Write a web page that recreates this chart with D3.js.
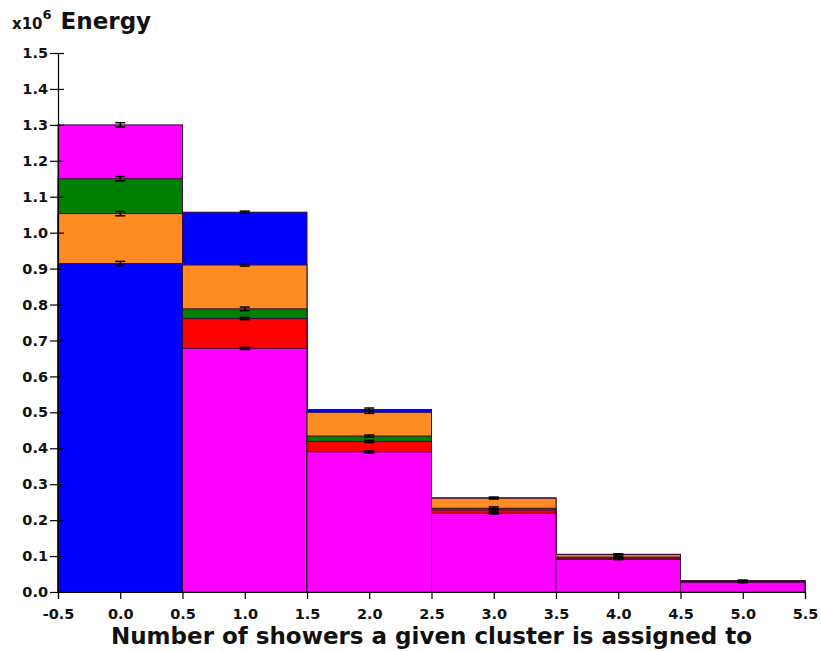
<!DOCTYPE html>
<html>
<head>
<meta charset="utf-8">
<script src="https://cdn.jsdelivr.net/npm/d3@7"></script>
<style>
  body { margin: 0; background: #fff; }
  svg { display: block; font-family: "DejaVu Sans", sans-serif; font-weight: bold; }
</style>
</head>
<body>
<div id="chart"></div>
<script>
// bin centres (number of showers)
const binCenters = [0, 1, 2, 3, 4, 5];
const xTicks = [-0.5, 0.0, 0.5, 1.0, 1.5, 2.0, 2.5, 3.0, 3.5, 4.0, 4.5, 5.0, 5.5];
const yTicks = [0.0, 0.1, 0.2, 0.3, 0.4, 0.5, 0.6, 0.7, 0.8, 0.9, 1.0, 1.1, 1.2, 1.3, 1.4, 1.5];

// energy in units of 1e6, each histogram filled from zero and overlaid
const blueVals    = [0.914, 1.057, 0.508, 0.262, 0.105, 0.032];
const orangeVals  = [1.053, 0.910, 0.500, 0.261, 0.104, 0.031];
const greenVals   = [1.150, 0.788, 0.434, 0.233, 0.097, 0.029];
const redVals     = [0.000, 0.761, 0.419, 0.228, 0.094, 0.028];
const magentaVals = [1.300, 0.678, 0.390, 0.219, 0.091, 0.027];

const blueErr    = [0.006, 0.003, 0.004, 0.002, 0.001, 0.001];
const orangeErr  = [0.006, 0.003, 0.003, 0.002, 0.001, 0.001];
const greenErr   = [0.006, 0.005, 0.003, 0.004, 0.001, 0.001];
const redErr     = [0.000, 0.003, 0.003, 0.004, 0.001, 0.001];
const magentaErr = [0.006, 0.003, 0.003, 0.002, 0.001, 0.001];

const series = [
  { name: "blue",    color: "#0000ff", vals: blueVals,    errs: blueErr },
  { name: "orange",  color: "#ff8c22", vals: orangeVals,  errs: orangeErr },
  { name: "green",   color: "#008000", vals: greenVals,   errs: greenErr },
  { name: "red",     color: "#ff0000", vals: redVals,     errs: redErr },
  { name: "magenta", color: "#ff00ff", vals: magentaVals, errs: magentaErr }
];

const width = 821, height = 651;
const margin = { left: 58, right: 16, top: 53, bottom: 59 };

const svg = d3.select("#chart").append("svg")
  .attr("width", width)
  .attr("height", height);

const x = d3.scaleLinear().domain([-0.5, 5.5]).range([margin.left, width - margin.right]);
const y = d3.scaleLinear().domain([0, 1.5]).range([height - margin.bottom, margin.top]);

// flatten into one rect per series per bin, tallest drawn first
const rects = [];
binCenters.forEach((c, i) => {
  const inBin = series
    .map(s => ({ bin: c, color: s.color, v: s.vals[i], e: s.errs[i] }))
    .filter(d => d.v > 0)
    .sort((a, b) => b.v - a.v);
  rects.push(...inBin);
});

svg.append("g").selectAll("rect")
  .data(rects)
  .enter().append("rect")
  .attr("x", d => x(d.bin - 0.5))
  .attr("width", d => x(d.bin + 0.5) - x(d.bin - 0.5))
  .attr("y", d => y(d.v))
  .attr("height", d => y(0) - y(d.v))
  .attr("fill", d => d.color)
  .attr("stroke", "#3a0a3a")
  .attr("stroke-width", 1);

// error bars
const eb = svg.append("g").attr("stroke", "#000").attr("stroke-width", 1.5);
rects.forEach(d => {
  const cx = x(d.bin);
  eb.append("line").attr("x1", cx).attr("x2", cx).attr("y1", y(d.v - d.e)).attr("y2", y(d.v + d.e));
  eb.append("line").attr("x1", cx - 5).attr("x2", cx + 5).attr("y1", y(d.v + d.e)).attr("y2", y(d.v + d.e));
  eb.append("line").attr("x1", cx - 5).attr("x2", cx + 5).attr("y1", y(d.v - d.e)).attr("y2", y(d.v - d.e));
});

// y axis
const yAxis = svg.append("g")
  .attr("transform", `translate(${margin.left},0)`)
  .call(d3.axisLeft(y).tickValues(yTicks).tickFormat(d3.format(".1f")).tickSize(7).tickPadding(3));
yAxis.select(".domain").attr("stroke", "#000").attr("stroke-width", 1.2);
yAxis.selectAll(".tick line").attr("x2", 6).attr("x1", -8).attr("stroke-width", 1.2);
yAxis.selectAll(".tick text").attr("font-size", 14.5).attr("font-weight", "bold")
  .attr("font-family", "DejaVu Sans").attr("fill", "#111").attr("x", -10);

// x axis
const xAxis = svg.append("g")
  .attr("transform", `translate(0,${y(0)})`)
  .call(d3.axisBottom(x).tickValues(xTicks).tickFormat(d => d3.format(".1f")(d).replace("−", "-")).tickSize(7).tickPadding(10));
xAxis.select(".domain").attr("stroke", "#000").attr("stroke-width", 1.2);
xAxis.selectAll(".tick line").attr("stroke-width", 1.2);
xAxis.selectAll(".tick text").attr("font-size", 14.5).attr("font-weight", "bold")
  .attr("font-family", "DejaVu Sans").attr("fill", "#111");

// y title with exponent
const yt = svg.append("text").attr("x", 12).attr("y", 29).attr("fill", "#111");
yt.append("tspan").attr("font-size", 15).text("x10");
yt.append("tspan").attr("font-size", 13).attr("dy", -10).text("6");
yt.append("tspan").attr("font-size", 23).attr("dy", 10).attr("dx", 9).text("Energy");

// x title
svg.append("text")
  .attr("x", (x(-0.5) + x(5.5)) / 2)
  .attr("y", 644)
  .attr("text-anchor", "middle")
  .attr("font-size", 23)
  .attr("fill", "#111")
  .text("Number of showers a given cluster is assigned to");
</script>
</body>
</html>
